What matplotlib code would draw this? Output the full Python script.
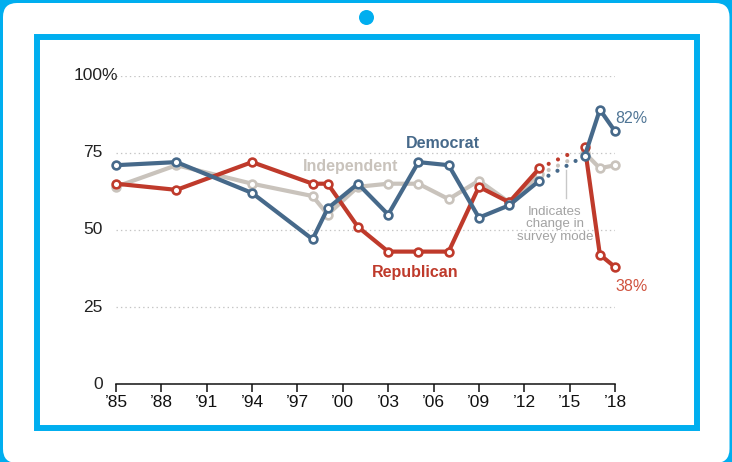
import matplotlib
matplotlib.use('Agg')
import matplotlib.pyplot as plt
from matplotlib.patches import FancyBboxPatch, Rectangle, Circle
from matplotlib.transforms import IdentityTransform

plt.rcParams['font.family'] = ['Liberation Sans', 'DejaVu Sans']
plt.rcParams['lines.scale_dashes'] = False

# survey years and partisan shares (%)
years = [1985, 1989, 1994, 1998, 1999, 2001, 2003, 2005, 2007, 2009, 2011, 2013, 2016, 2017, 2018]
democrat = [71, 72, 62, 47, 57, 65, 55, 72, 71, 54, 58, 66, 74, 89, 82]
republican = [65, 63, 72, 65, 65, 51, 43, 43, 43, 64, 59, 70, 77, 42, 38]
independent = [64, 71, 65, 61, 55, 64, 65, 65, 60, 66, 59, 68, 75, 70, 71]
mode_change = 2014

x_ticks = list(range(1985, 2019, 3))
x_labels = ['\u2019' + str(y)[2:] for y in x_ticks]
y_ticks = [0, 25, 50, 75, 100]

FRAME = '#00AEEF'
DEM = '#46698A'
REP = '#BF3A2B'
IND = '#C9C3BC'
TXT = '#222222'
TICK_FS = 12.5

W, H = 732, 462
fig = plt.figure(figsize=(W / 100, H / 100), dpi=100, facecolor=FRAME)
px = IdentityTransform()

# tablet-style frame
fig.add_artist(FancyBboxPatch((3, -1), 726.5, 460, boxstyle='round,pad=0,rounding_size=14',
                              transform=px, fc='white', ec='none', zorder=-10))
fig.add_artist(Circle((366.5, 444.5), 7.5, transform=px, fc=FRAME, ec='none', zorder=-9))
fig.add_artist(Rectangle((37, 34), 660, 391, transform=px, fill=False, ec=FRAME,
                         lw=4.3, joinstyle='miter', zorder=-9))

ax = fig.add_axes([116 / W, 1 - 384.3 / H, (615 - 116) / W, (384.3 - 75.7) / H])
ax.patch.set_alpha(0)
ax.set_xlim(1985, 2018)
ax.set_ylim(0, 100)

for s in ['left', 'top', 'right']:
  ax.spines[s].set_visible(False)
ax.spines['bottom'].set_linewidth(1.1)
ax.spines['bottom'].set_color('#111111')

ax.set_xticks(x_ticks)
ax.set_xticklabels(x_labels)
ax.tick_params(axis='x', length=5.8, width=1.1, pad=2, labelsize=TICK_FS, colors='#111111')

# y labels: numbers right-aligned, the % sign hangs past them on the top one
ax.set_yticks(y_ticks)
ax.tick_params(axis='y', length=0, labelleft=False)
pct_w = 0.889 * TICK_FS  # advance of '%'
for v in y_ticks:
  text = f'{v}%' if v == y_ticks[-1] else str(v)
  shift = pct_w if v == y_ticks[-1] else 0
  ax.annotate(text, xy=(0, v), xycoords=('axes fraction', 'data'), xytext=(-9.4 + shift, 0),
              textcoords='offset points', ha='right', va='center', fontsize=TICK_FS, color=TXT)

ax.set_axisbelow(True)
ax.yaxis.grid(True, color='#c4c4c4', lw=0.9, linestyle=(0, (1, 2.2)))


def draw_series(vals, color, z):
  before = [(y, v) for y, v in zip(years, vals) if y < mode_change]
  after = [(y, v) for y, v in zip(years, vals) if y > mode_change]
  style = dict(color=color, lw=3, marker='o', ms=5.6, mfc='white', mec=color, mew=1.9,
               clip_on=False, zorder=z, solid_joinstyle='round', solid_capstyle='round')
  for seg in (before, after):
    ax.plot([p[0] for p in seg], [p[1] for p in seg], **style)
  # dotted bridge across the survey mode change, stopping short of the next marker
  (x0, y0), (x1, y1) = before[-1], after[0]
  f = 0.8
  ax.plot([x0, x0 + f * (x1 - x0)], [y0, y0 + f * (y1 - y0)], color=color, lw=3,
          ls=(0, (0.01, 7.4)), dash_capstyle='round', zorder=z - 0.5, clip_on=False)


draw_series(independent, IND, 3)
draw_series(republican, REP, 4)
draw_series(democrat, DEM, 5)

lbl = dict(fontsize=11.5, fontweight='bold', ha='center', va='center')
ax.text(2006.6, 77.9, 'Democrat', color=DEM, **lbl)
ax.text(2000.5, 70.7, 'Independent', color=IND, **lbl)
ax.text(2004.8, 36.3, 'Republican', color=REP, **lbl)

ax.text(2018, 86.2, f'{democrat[-1]}%', color='#4F7595', fontsize=11.5, ha='left', va='center')
ax.text(2018, 31.6, f'{republican[-1]}%', color='#D0533F', fontsize=11.5, ha='left', va='center')

ax.plot([2014.76, 2014.76], [60.4, 69.4], color='#c8c8c8', lw=1, zorder=2)
ax.text(2014.03, 51.8, 'Indicates\nchange in\nsurvey mode', color='#a3a3a3', fontsize=9.6,
        ha='center', va='center', linespacing=1.05)

fig.savefig('out.png', dpi=100, facecolor=FRAME)
